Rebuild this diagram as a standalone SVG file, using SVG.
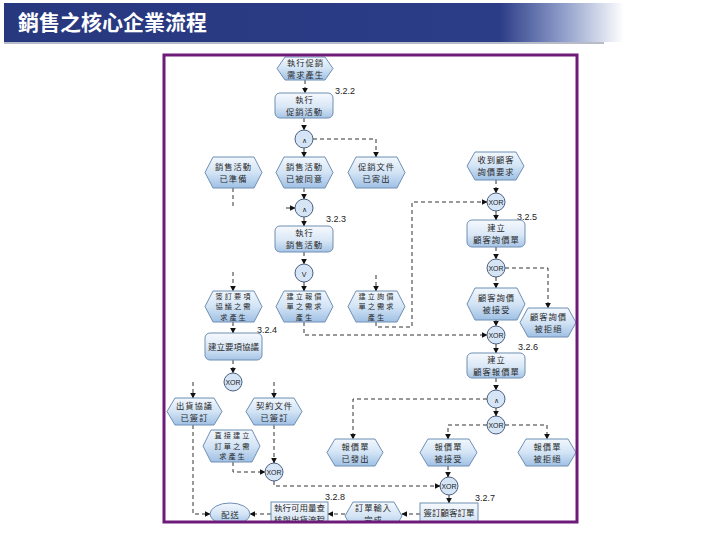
<svg xmlns="http://www.w3.org/2000/svg" width="720" height="540" viewBox="0 0 720 540">
<defs>
<linearGradient id="gBar" x1="0" y1="0" x2="1" y2="0">
<stop offset="0" stop-color="#27387f"/>
<stop offset="0.8" stop-color="#2c3d88"/>
<stop offset="0.9" stop-color="#8d9cc8"/>
<stop offset="1" stop-color="#ffffff"/>
</linearGradient>
<linearGradient id="gEv" x1="0" y1="0" x2="0" y2="1">
<stop offset="0" stop-color="#f2f7fd"/>
<stop offset="0.5" stop-color="#d3e4f5"/>
<stop offset="1" stop-color="#9fc0e4"/>
</linearGradient>
<linearGradient id="gFn" x1="0" y1="0" x2="0" y2="1">
<stop offset="0" stop-color="#f6f9fd"/>
<stop offset="0.55" stop-color="#d9e7f6"/>
<stop offset="1" stop-color="#a6c4e6"/>
</linearGradient>
<marker id="ah" viewBox="0 0 10 10" refX="9" refY="5" markerWidth="6" markerHeight="6" orient="auto" markerUnits="userSpaceOnUse">
<path d="M0,0 L10,5 L0,10 z" fill="#111"/>
</marker>
<clipPath id="clipFrame"><rect x="164" y="55" width="413" height="467"/></clipPath>
<style>
.ev{fill:url(#gEv);stroke:#6f8fb4;stroke-width:1}
.fn{fill:url(#gFn);stroke:#6f8fb4;stroke-width:1}
.cn{fill:#d5e5f6;stroke:#4a5f80;stroke-width:1}
.t{font-family:"Noto Sans CJK TC","Liberation Sans",sans-serif;font-size:8.3px;letter-spacing:1px;fill:#2a2a2a;text-anchor:middle}
.t1{font-family:"Noto Sans CJK TC","Liberation Sans",sans-serif;font-size:8.5px;fill:#2a2a2a;text-anchor:middle}
.t3{font-family:"Noto Sans CJK TC","Liberation Sans",sans-serif;font-size:7.2px;letter-spacing:2px;fill:#2a2a2a;text-anchor:middle}
.ct{font-family:"Liberation Sans",sans-serif;font-size:7px;fill:#222;text-anchor:middle}
.lb{font-family:"Liberation Sans",sans-serif;font-size:9px;fill:#222}
.e{fill:none;stroke:#333;stroke-width:1;stroke-dasharray:4,3}
.ea{fill:none;stroke:#333;stroke-width:1;stroke-dasharray:4,3;marker-end:url(#ah)}
</style>
</defs>
<rect x="0" y="0" width="720" height="540" fill="#ffffff"/>
<g id="title">
<rect x="4" y="3" width="620" height="39" fill="url(#gBar)"/>
<rect x="4" y="42" width="600" height="2" fill="#b8bcc8"/>
<text x="18" y="30" font-family="Noto Sans CJK TC, sans-serif" font-size="21" font-weight="bold" fill="#ffffff">銷售之核心企業流程</text>
</g>
<g clip-path="url(#clipFrame)">
<g id="connectors">
<path class="ea" d="M305,80 L305,93"/>
<path class="ea" d="M304,118 L304,130"/>
<path class="ea" d="M313,139 L376,139 L376,157"/>
<path class="ea" d="M304,148 L304,157"/>
<path class="e" d="M233,188 L233,207"/>
<path class="ea" d="M304,188 L304,199"/>
<path class="ea" d="M286,208 L295,208"/>
<path class="ea" d="M304,217 L304,226"/>
<path class="ea" d="M304,252 L304,264"/>
<path class="ea" d="M304,282 L304,291"/>
<path class="ea" d="M233,272 L233,291"/>
<path class="ea" d="M376,275 L376,291"/>
<path class="ea" d="M376,322 L376,327 L412,327 L412,202 L487,202"/>
<path class="ea" d="M304,322 L304,335 L487,335"/>
<path class="ea" d="M496,180 L496,193"/>
<path class="ea" d="M496,211 L496,220"/>
<path class="ea" d="M496,247 L496,259"/>
<path class="ea" d="M505,268 L548,268 L548,308"/>
<path class="ea" d="M496,277 L496,288"/>
<path class="ea" d="M496,320 L496,326"/>
<path class="ea" d="M496,344 L496,353"/>
<path class="ea" d="M496,378 L496,390"/>
<path class="ea" d="M487,399 L353,399 L353,439"/>
<path class="ea" d="M496,408 L496,416"/>
<path class="ea" d="M487,425 L448,425 L448,439"/>
<path class="ea" d="M505,425 L547,425 L547,439"/>
<path class="ea" d="M233,322 L233,333"/>
<path class="ea" d="M233,360 L233,373"/>
<path class="ea" d="M193,382 L193,398"/>
<path class="ea" d="M274,382 L274,398"/>
<path class="ea" d="M274,425 L274,463"/>
<path class="ea" d="M233,462 L233,472 L265,472"/>
<path class="ea" d="M274,481 L274,486 L440,486"/>
<path class="ea" d="M448,466 L448,477"/>
<path class="ea" d="M449,495 L449,503"/>
<path class="ea" d="M420,514 L402,514"/>
<path class="ea" d="M345,514 L328,514"/>
<path class="ea" d="M271,514 L250,514"/>
<path class="ea" d="M193,425 L193,514 L210,514"/>
</g>
<g id="labels">
<text class="lb" x="335" y="94">3.2.2</text>
<text class="lb" x="326" y="222">3.2.3</text>
<text class="lb" x="517" y="220">3.2.5</text>
<text class="lb" x="257" y="333">3.2.4</text>
<text class="lb" x="518" y="350">3.2.6</text>
<text class="lb" x="475" y="501">3.2.7</text>
<text class="lb" x="325" y="500">3.2.8</text>
</g>
<g id="e1"><polygon class="ev" points="277,68.5 285,57 325,57 333,68.5 325,80 285,80"/><text class="t" x="305.5" y="65.5">執行促銷</text><text class="t" x="305.5" y="77.5">需求產生</text></g>
<g id="f1"><rect class="fn" x="275" y="93" width="58" height="25" rx="5"/><text class="t" x="304.5" y="102.5">執行</text><text class="t" x="304.5" y="114.5">促銷活動</text></g>
<g id="c1"><circle class="cn" cx="304" cy="139" r="9"/><text class="ct" x="304" y="143" font-size="10">∧</text></g>
<g id="e2"><polygon class="ev" points="205,172.5 213,157 254,157 262,172.5 254,188 213,188"/><text class="t" x="233.5" y="169.5">銷售活動</text><text class="t" x="233.5" y="181.5">已準備</text></g>
<g id="e3"><polygon class="ev" points="276,172.5 284,157 325,157 333,172.5 325,188 284,188"/><text class="t" x="304.5" y="169.5">銷售活動</text><text class="t" x="304.5" y="181.5">已被同意</text></g>
<g id="e4"><polygon class="ev" points="348,172.5 356,157 397,157 405,172.5 397,188 356,188"/><text class="t" x="376.5" y="169.5">促銷文件</text><text class="t" x="376.5" y="181.5">已寄出</text></g>
<g id="e5"><polygon class="ev" points="467,166 475,152 516,152 524,166 516,180 475,180"/><text class="t" x="496" y="163">收到顧客</text><text class="t" x="496" y="175">詢價要求</text></g>
<g id="c2"><circle class="cn" cx="304" cy="208" r="9"/><text class="ct" x="304" y="212" font-size="10">∧</text></g>
<g id="f2"><rect class="fn" x="275" y="226" width="58" height="26" rx="5"/><text class="t" x="304.5" y="236">執行</text><text class="t" x="304.5" y="248">銷售活動</text></g>
<g id="c3"><circle class="cn" cx="304" cy="273" r="9"/><text class="ct" x="304" y="277" font-size="11">V</text></g>
<g id="c4"><circle class="cn" cx="496" cy="202" r="9"/><text class="ct" x="496" y="204.5">XOR</text></g>
<g id="f3"><rect class="fn" x="467" y="220" width="58" height="27" rx="5"/><text class="t" x="496.5" y="230.5">建立</text><text class="t" x="496.5" y="242.5">顧客詢價單</text></g>
<g id="c5"><circle class="cn" cx="496" cy="268" r="9"/><text class="ct" x="496" y="270.5">XOR</text></g>
<g id="e6"><polygon class="ev" points="205,306.5 213,291 254,291 262,306.5 254,322 213,322"/><text class="t3" x="234" y="298.7">簽訂要項</text><text class="t3" x="234" y="309.2">協議之需</text><text class="t3" x="234" y="319.7">求產生</text></g>
<g id="e7"><polygon class="ev" points="276,306.5 284,291 325,291 333,306.5 325,322 284,322"/><text class="t3" x="305" y="298.7">建立報價</text><text class="t3" x="305" y="309.2">單之需求</text><text class="t3" x="305" y="319.7">產生</text></g>
<g id="e8"><polygon class="ev" points="348,306.5 356,291 397,291 405,306.5 397,322 356,322"/><text class="t3" x="377" y="298.7">建立詢價</text><text class="t3" x="377" y="309.2">單之需求</text><text class="t3" x="377" y="319.7">產生</text></g>
<g id="e9"><polygon class="ev" points="467,304 475,288 517,288 525,304 517,320 475,320"/><text class="t" x="496.5" y="301">顧客詢價</text><text class="t" x="496.5" y="313">被接受</text></g>
<g id="e10"><polygon class="ev" points="520,322.5 528,308 568,308 576,322.5 568,337 528,337"/><text class="t" x="548.5" y="319.5">顧客詢價</text><text class="t" x="548.5" y="331.5">被拒絕</text></g>
<g id="c6"><circle class="cn" cx="496" cy="335" r="9"/><text class="ct" x="496" y="337.5">XOR</text></g>
<g id="f4"><rect class="fn" x="205" y="333" width="57" height="27" rx="5"/><text class="t1" x="233.5" y="349.5">建立要項協議</text></g>
<g id="f5"><rect class="fn" x="467" y="353" width="58" height="25" rx="5"/><text class="t" x="496.5" y="362.5">建立</text><text class="t" x="496.5" y="374.5">顧客報價單</text></g>
<g id="c9"><circle class="cn" cx="233" cy="382" r="9"/><text class="ct" x="233" y="384.5">XOR</text></g>
<g id="c7"><circle class="cn" cx="496" cy="399" r="9"/><text class="ct" x="496" y="403" font-size="10">∧</text></g>
<g id="c8"><circle class="cn" cx="496" cy="425" r="9"/><text class="ct" x="496" y="427.5">XOR</text></g>
<g id="e11"><polygon class="ev" points="167,411.5 175,398 214,398 222,411.5 214,425 175,425"/><text class="t" x="194.5" y="408.5">出貨協議</text><text class="t" x="194.5" y="420.5">已簽訂</text></g>
<g id="e12"><polygon class="ev" points="246,411.5 254,398 294,398 302,411.5 294,425 254,425"/><text class="t" x="274.5" y="408.5">契約文件</text><text class="t" x="274.5" y="420.5">已簽訂</text></g>
<g id="e13"><polygon class="ev" points="203,446 211,430 252,430 260,446 252,462 211,462"/><text class="t3" x="233" y="438.2">直接建立</text><text class="t3" x="233" y="448.7">訂單之需</text><text class="t3" x="233" y="459.2">求產生</text></g>
<g id="e14"><polygon class="ev" points="327,452.5 335,439 375,439 383,452.5 375,466 335,466"/><text class="t" x="355.5" y="449.5">報價單</text><text class="t" x="355.5" y="461.5">已發出</text></g>
<g id="e15"><polygon class="ev" points="420,452.5 428,439 469,439 477,452.5 469,466 428,466"/><text class="t" x="448.5" y="449.5">報價單</text><text class="t" x="448.5" y="461.5">被接受</text></g>
<g id="e16"><polygon class="ev" points="518,452.5 526,439 568,439 576,452.5 568,466 526,466"/><text class="t" x="547.5" y="449.5">報價單</text><text class="t" x="547.5" y="461.5">被拒絕</text></g>
<g id="c10"><circle class="cn" cx="274" cy="472" r="9"/><text class="ct" x="274" y="474.5">XOR</text></g>
<g id="c11"><circle class="cn" cx="449" cy="486" r="9"/><text class="ct" x="449" y="488.5">XOR</text></g>
<g id="f6"><rect class="fn" x="420" y="503" width="58" height="30"/><text class="t1" x="449" y="516">簽訂顧客訂單</text></g>
<g id="e17"><polygon class="ev" points="345,516 353,502 394,502 402,516 394,530 353,530"/><text class="t" x="373.5" y="511">訂單輸入</text><text class="t" x="373.5" y="523">完成</text></g>
<g id="f7"><rect class="fn" x="271" y="502" width="57" height="30"/><text class="t1" x="299.5" y="511">執行可用量查</text><text class="t1" x="299.5" y="523">核與出貨流程</text></g>
<g id="end"><ellipse class="ev" cx="230" cy="514" rx="20" ry="11"/><text class="t" x="230.5" y="517.5">配送</text></g>
</g>
<rect id="frame" x="164" y="55" width="413" height="467" fill="none" stroke="#6d1a78" stroke-width="3"/>
</svg>
